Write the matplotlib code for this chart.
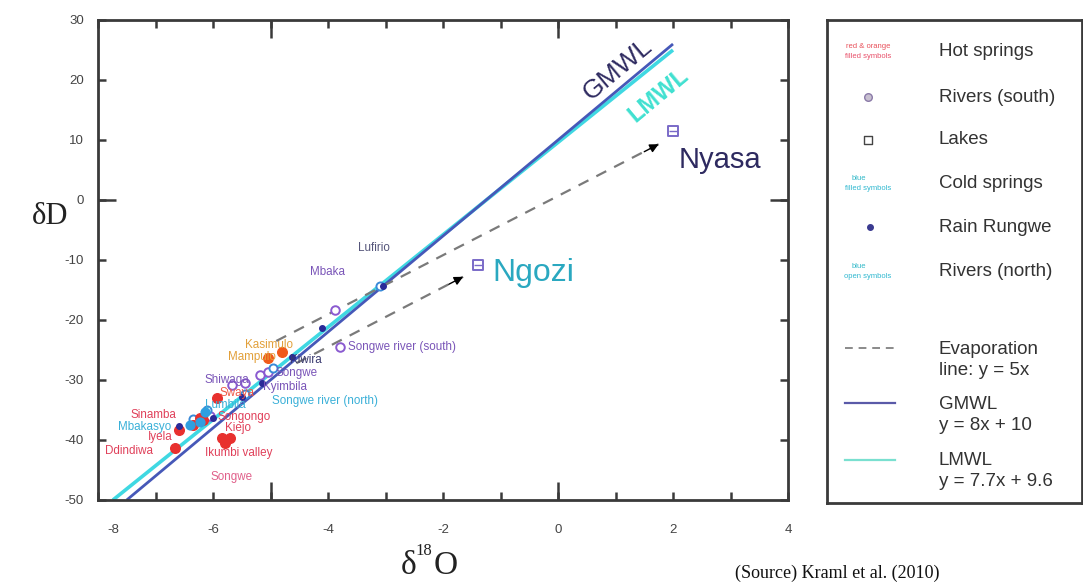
import matplotlib
matplotlib.use("Agg")
import matplotlib.pyplot as plt
import numpy as np
from matplotlib.ticker import FixedLocator, FuncFormatter
from matplotlib.transforms import ScaledTranslation

plt.rcParams['font.family'] = ['Liberation Sans', 'DejaVu Sans']
plt.rcParams['axes.unicode_minus'] = False

# ---- data (delta18O, deltaD in permil) ----
hot_orange_x = [-4.80, -5.05]
hot_orange_y = [-25.3, -26.3]
hot_red_x = [-5.93, -6.17, -6.35, -6.22, -5.84, -5.70, -5.79, -6.66, -6.60]
hot_red_y = [-33.0, -36.7, -37.5, -36.3, -39.7, -39.7, -40.5, -41.3, -38.3]
cold_x = [-6.14, -6.23, -6.40]
cold_y = [-35.3, -37.0, -37.5]
rain_x = [-3.05, -4.10, -4.62, -5.15, -5.50, -6.00, -6.60]
rain_y = [-14.3, -21.3, -26.2, -30.5, -32.8, -36.3, -37.6]
river_south_x = [-3.88, -3.79, -5.67, -5.18, -5.04, -5.44, -6.05]
river_south_y = [-18.3, -24.5, -30.8, -29.2, -28.7, -30.5, -36.0]
river_north_x = [-3.10, -4.95, -5.45, -6.10, -6.35]
river_north_y = [-14.4, -28.0, -32.3, -35.0, -36.5]
lake_names = ["Nyasa", "Ngozi"]
lake_x = [2.00, -1.39]
lake_y = [11.5, -10.8]

# evaporation trends (slope ~5) ending at the lakes
evap_start_x = [-4.90, -4.55]
evap_start_y = [-23.5, -27.2]
evap_end_x = [1.75, -1.65]
evap_end_y = [9.3, -12.8]

# meteoric water lines
gmwl_slope, gmwl_icpt = 8.0, 10.0
lmwl_slope, lmwl_icpt = 7.7, 9.6

# sample-site labels: text, anchor (left edge, centre), category
site_names = ["Lufirio", "Mbaka", "Songwe river (south)", "Kasimulo", "Mampulo",
              "Kiwira", "Songwe", "Shiwaga", "Kyimbila", "Swaya",
              "Songwe river (north)", "Lumbila", "Sinamba", "Songongo",
              "Mbakasyo", "Kiejo", "Iyela", "Ddindiwa", "Ikumbi valley", "Songwe"]
site_x = [-3.48, -4.31, -3.65, -5.44, -5.74, -4.66, -4.92, -6.14, -5.13, -5.88,
          -4.97, -6.14, -7.44, -5.93, -7.65, -5.79, -7.13, -7.88, -6.14, -6.05]
site_y = [-8.0, -12.0, -24.5, -24.2, -26.2, -26.7, -28.8, -30.0, -31.2, -32.2,
          -33.5, -34.2, -35.8, -36.2, -37.8, -38.0, -39.5, -41.8, -42.2, -46.2]
site_kind = ["grey", "south", "south", "orange", "orange", "rain", "south", "south",
             "south", "redorange", "north", "north", "red", "red", "north", "red",
             "red", "red", "red", "pink"]

kind_color = {"grey": "#55557a", "south": "#7a55b8", "orange": "#e2a03a",
              "rain": "#3a3a70", "redorange": "#ee5a4a", "north": "#3ab0d8",
              "red": "#e0405a", "pink": "#e0608a"}

W, H = 1083, 583
fig = plt.figure(figsize=(W / 100, H / 100), dpi=100)
ax = fig.add_axes([98 / W, 1 - 500 / H, (788 - 98) / W, (500 - 20) / H])
ax.set_xlim(-8, 4)
ax.set_ylim(-50, 30)

# meteoric water lines
xl = np.array([(-50 - lmwl_icpt) / lmwl_slope, 2.0])
ax.plot(xl, lmwl_slope * xl + lmwl_icpt, color="#3fd8e2", lw=2.6, zorder=2,
        solid_capstyle="butt")
xg = np.array([(-50 - gmwl_icpt) / gmwl_slope, 2.0])
ax.plot(xg, gmwl_slope * xg + gmwl_icpt, color="#4658b8", lw=2.0, zorder=2,
        solid_capstyle="butt")

# evaporation lines with arrow heads
for x0, y0, x1, y1 in zip(evap_start_x, evap_start_y, evap_end_x, evap_end_y):
    ax.plot([x0, x1], [y0, y1], color="#7a7a7a", lw=1.6, ls=(0, (5, 4)), zorder=3)
    ax.annotate("", xy=(x1, y1), xytext=(x1 - 0.25, y1 - 1.25),
                arrowprops=dict(arrowstyle="-|>", color="black", lw=1.0,
                                mutation_scale=13, shrinkA=0, shrinkB=0), zorder=4)

# samples
ax.scatter(river_south_x, river_south_y, s=38, facecolors="white",
           edgecolors="#8a5ad0", linewidths=1.4, zorder=5)
ax.scatter(river_north_x, river_north_y, s=34, facecolors="white",
           edgecolors="#3a8ad8", linewidths=1.4, zorder=5)
ax.scatter(hot_red_x, hot_red_y, s=48, color="#e8302e", zorder=6)
ax.scatter(hot_orange_x, hot_orange_y, s=48, color="#f05a1a", zorder=6)
ax.scatter(cold_x, cold_y, s=40, color="#2f9fe0", zorder=6)
ax.scatter(rain_x, rain_y, s=16, color="#2a2a98", zorder=7)
ax.scatter(lake_x, lake_y, s=60, marker="s", facecolors="white",
           edgecolors="#7a6ac8", linewidths=1.4, zorder=6)
ax.scatter(lake_x, lake_y, s=40, marker="_", color="#7a6ac8", linewidths=1.0, zorder=7)

for name, x, y, k in zip(site_names, site_x, site_y, site_kind):
    ax.text(x, y, name, fontsize=8.4, color=kind_color[k], ha="left", va="center",
            zorder=8)

# lake names
ax.text(lake_x[0] + 0.1, lake_y[0] - 4.8, lake_names[0], fontsize=21,
        color="#2e2a60", ha="left", va="center")
ax.text(lake_x[1] + 0.25, lake_y[1] - 1.4, lake_names[1], fontsize=23,
        color="#2aa8c0", ha="left", va="center")

# line labels
ang = np.degrees(np.arctan((8 * 6) / 57.5))
ax.text(1.03, 21.8, "GMWL", fontsize=19, color="#2e2a60", rotation=ang,
        ha="center", va="center", rotation_mode="anchor")
ax.text(1.74, 17.5, "LMWL", fontsize=17, color="#40e0d0", rotation=ang,
        ha="center", va="center", rotation_mode="anchor", fontweight="bold")

# axes styling
for sp in ax.spines.values():
    sp.set_linewidth(2.0)
    sp.set_color("#3a3a3a")
ax.xaxis.remove_overlapping_locs = False
ax.yaxis.remove_overlapping_locs = False
ax.xaxis.set_major_locator(FixedLocator(np.arange(-8, 5, 1)))
ax.xaxis.set_major_formatter(FuncFormatter(lambda v, p: f"{int(v)}" if int(v) % 2 == 0 else ""))
ax.xaxis.set_minor_locator(FixedLocator([-5, 0]))
ax.yaxis.set_major_locator(FixedLocator(np.arange(-50, 31, 10)))
ax.yaxis.set_minor_locator(FixedLocator([0]))
ax.tick_params(which="major", direction="in", length=6, width=1.8, color="#3a3a3a",
               top=True, right=True, labelsize=9.5, labelcolor="#444444")
ax.tick_params(which="minor", direction="in", length=13, width=1.8, color="#3a3a3a",
               top=True, right=True)
ax.tick_params(axis="x", pad=17)
ax.tick_params(axis="y", pad=10)
# nudge the first x label clear of the y labels
first = ax.xaxis.get_major_ticks()[0].label1
first.set_transform(first.get_transform() + ScaledTranslation(0.15, 0, fig.dpi_scale_trans))

# axis titles
fig.text(401 / W, 1 - 566 / H, "δ", fontsize=24, ha="left", va="center",
         color="#222222", family="Liberation Serif")
fig.text(415 / W, 1 - 551 / H, "18", fontsize=12, ha="left", va="center",
         color="#222222", family="Liberation Serif")
fig.text(434 / W, 1 - 566 / H, "O", fontsize=24, ha="left", va="center",
         color="#222222", family="Liberation Serif")
fig.text(50 / W, 1 - 217 / H, "δD", fontsize=22, ha="center", va="center",
         color="#222222", family="Liberation Serif")
fig.text(735 / W, 1 - 573 / H, "(Source) Kraml et al. (2010)", fontsize=13,
         ha="left", va="center", family="Liberation Serif", color="#111111")

# key panel
lg = fig.add_axes([827 / W, 1 - 503 / H, (1082 - 827) / W, (503 - 20) / H])
lg.set_xlim(827, 1082)
lg.set_ylim(503, 20)
lg.set_xticks([])
lg.set_yticks([])
for sp in lg.spines.values():
    sp.set_linewidth(2.0)
    sp.set_color("#3a3a3a")

tx = 939
entries = [("Hot springs", 52), ("Rivers (south)", 97), ("Lakes", 140),
           ("Cold springs", 183), ("Rain Rungwe", 228), ("Rivers (north)", 272),
           ("Evaporation\nline: y = 5x", 360), ("GMWL\ny = 8x + 10", 415),
           ("LMWL\ny = 7.7x + 9.6", 471)]
for txt, y in entries:
    lg.text(tx, y, txt, fontsize=13.5, color="#333333", ha="left", va="center",
            linespacing=1.35)

sx = 868
lg.text(sx, 47, "red & orange", fontsize=5.5, color="#e8505a", ha="center", va="center")
lg.text(sx, 57, "filled symbols", fontsize=5.5, color="#e8506a", ha="center", va="center")
lg.scatter([868], [97], s=30, facecolors="#c8c0d0", edgecolors="#8a7aa8", linewidths=1)
lg.scatter([868], [140], s=26, marker="s", facecolors="white", edgecolors="#444444",
           linewidths=1)
lg.text(852, 178, "blue", fontsize=5.5, color="#30b8c8", ha="left", va="center")
lg.text(sx, 188, "filled symbols", fontsize=5.5, color="#30b8d0", ha="center", va="center")
lg.scatter([870], [227], s=16, color="#3a3a90")
lg.text(852, 267, "blue", fontsize=5.5, color="#30b8c8", ha="left", va="center")
lg.text(sx, 277, "open symbols", fontsize=5.5, color="#30b8d0", ha="center", va="center")
lg.plot([845, 895], [348, 348], color="#8a8a8a", lw=1.4, ls=(0, (4, 3)))
lg.plot([845, 895], [403, 403], color="#5a5aa8", lw=1.6)
lg.plot([845, 895], [460, 460], color="#7ae0d0", lw=1.6)

fig.savefig("out.png", dpi=100)
